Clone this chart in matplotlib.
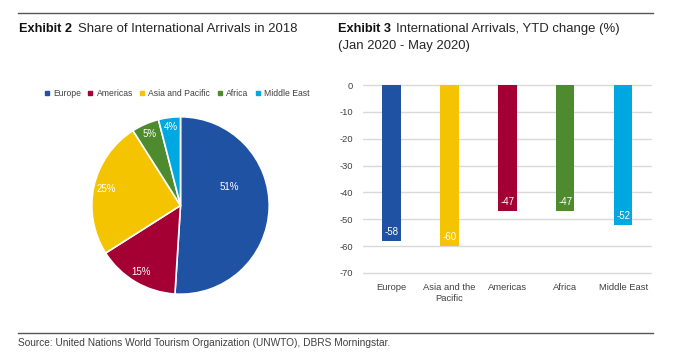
import matplotlib
matplotlib.use("Agg")
import matplotlib.pyplot as plt
from matplotlib.lines import Line2D
import numpy as np

plt.rcParams['font.family'] = ['Liberation Sans', 'DejaVu Sans']

# data
pie_labels = ['Europe', 'Americas', 'Asia and Pacific', 'Africa', 'Middle East']
pie_share = [51, 15, 25, 5, 4]
pie_colors = ['#1F52A3', '#A50034', '#F5C400', '#4E8A2E', '#00A8E1']

bar_labels = ['Europe', 'Asia and the\nPacific', 'Americas', 'Africa', 'Middle East']
bar_change = [-58, -60, -47, -47, -52]
bar_colors = ['#1F52A3', '#F5C400', '#A50034', '#4E8A2E', '#00A8E1']
y_ticks = [0, -10, -20, -30, -40, -50, -60, -70]

W, H = 680, 363
fig = plt.figure(figsize=(W / 100, H / 100), dpi=100)
renderer = fig.canvas.get_renderer()

def fx(px):
    return px / W

def fy(py):
    return 1 - py / H

def fit_size(s, target_px, weight='normal', base=10):
    # the reference uses a condensed face, so size text by its width
    t = fig.text(0, 0, s, fontsize=base, fontweight=weight)
    w = t.get_window_extent(renderer).width
    t.remove()
    return base * target_px / w

txt = '#262626'

# rules
fig.add_artist(Line2D([fx(18), fx(653)], [fy(13), fy(13)], color='#555555', lw=1.0))
fig.add_artist(Line2D([fx(18), fx(653)], [fy(332.5), fy(332.5)], color='#555555', lw=1.0))

# titles
title_fs = fit_size('Share of International Arrivals in 2018', 220)
bold_fs = fit_size('Exhibit 2', 53, weight='bold')
fig.text(fx(19), fy(29), 'Exhibit 2', fontsize=bold_fs, fontweight='bold', color='#111111', va='center')
fig.text(fx(78), fy(29), 'Share of International Arrivals in 2018', fontsize=title_fs, color=txt, va='center')
fig.text(fx(338), fy(29), 'Exhibit 3', fontsize=bold_fs, fontweight='bold', color='#111111', va='center')
fig.text(fx(396), fy(29), 'International Arrivals, YTD change (%)', fontsize=title_fs, color=txt, va='center')
fig.text(fx(338), fy(46), '(Jan 2020 - May 2020)', fontsize=title_fs, color=txt, va='center')

src = 'Source: United Nations World Tourism Organization (UNWTO), DBRS Morningstar.'
fig.text(fx(18.5), fy(342.5), src, fontsize=fit_size(src, 372), color='#404040', va='center')

# pie
cx, cy, r = 180.5, 205.5, 88.7
ax1 = fig.add_axes([fx(cx - r), fy(cy + r), 2 * r / W, 2 * r / H])
wedges, _ = ax1.pie(pie_share, colors=pie_colors, startangle=90, counterclock=False,
                    wedgeprops=dict(edgecolor='white', linewidth=1.2))
ax1.set_xlim(-1, 1)
ax1.set_ylim(-1, 1)
ax1.set_aspect('equal')
ax1.axis('off')

pct_fs = fit_size('51%', 19.5)
lab_dist = [0.59, 0.87, 0.86, 0.88, 0.89]
lab_shift = [23, 0, 0, 0, 0]
for w, v, d, s in zip(wedges, pie_share, lab_dist, lab_shift):
    ang = np.deg2rad((w.theta1 + w.theta2) / 2 + s)
    ax1.text(d * np.cos(ang), d * np.sin(ang), f'{v}%', color='white',
             fontsize=pct_fs, ha='center', va='center')

leg_fs = fit_size('Europe', 28)
handles = [Line2D([], [], marker='s', linestyle='', markersize=2.8, color=c) for c in pie_colors]
fig.legend(handles, pie_labels, loc='center', bbox_to_anchor=(fx(177), fy(94)), ncol=5,
           frameon=False, fontsize=leg_fs, handlelength=0.5, handletextpad=0.45,
           columnspacing=0.85, labelcolor='#404040', borderaxespad=0, borderpad=0)

# bars
tick_fs = fit_size('Middle East', 49)
ppu = 188 / 70
ax2 = fig.add_axes([fx(362.7), fy(273 + ppu), 289.3 / W, (188 + 2 * ppu) / H])
x = np.arange(len(bar_change))
ax2.bar(x, bar_change, width=0.32, color=bar_colors, zorder=3)
ax2.set_xlim(-0.5, len(bar_change) - 0.5)
ax2.set_ylim(-71, 1)
ax2.set_yticks(y_ticks)
ax2.set_yticklabels([str(t) for t in y_ticks])
ax2.set_xticks(x)
ax2.set_xticklabels(bar_labels, linespacing=1.3)
ax2.grid(axis='y', color='#D9D9D9', lw=1.0, zorder=0)
for sp in ax2.spines.values():
    sp.set_visible(False)
ax2.tick_params(axis='both', length=0, labelsize=tick_fs, colors='#404040')
ax2.tick_params(axis='x', pad=5)
ax2.tick_params(axis='y', pad=7)
for xi, v in zip(x, bar_change):
    ax2.text(xi, v + 3.4, str(v), color='white', fontsize=pct_fs, ha='center', va='center', zorder=4)

fig.savefig('out.png', dpi=100)
